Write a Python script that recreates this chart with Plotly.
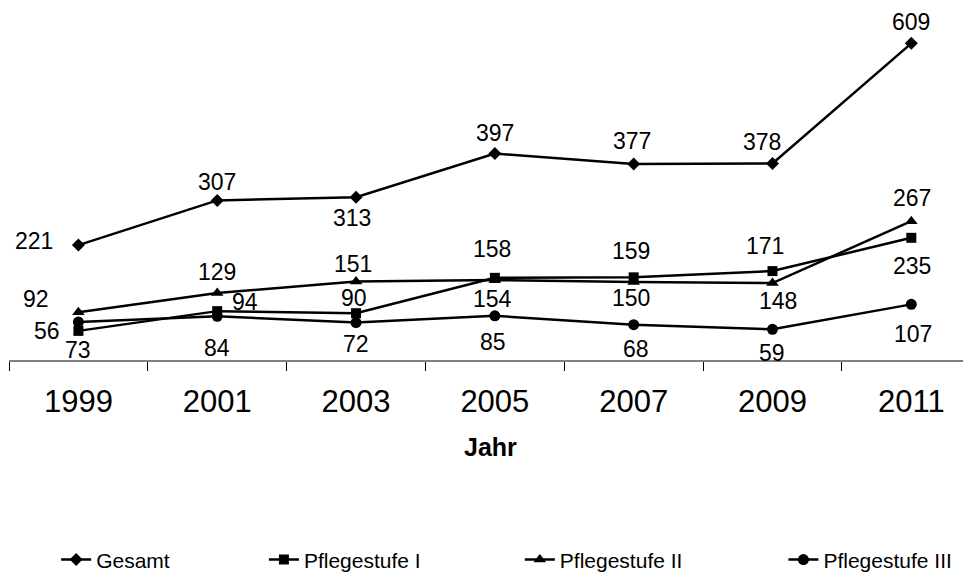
import plotly.graph_objects as go

# --- Daten ---
jahre = ["1999", "2001", "2003", "2005", "2007", "2009", "2011"]
gesamt = [221, 307, 313, 397, 377, 378, 609]
stufe_1 = [56, 94, 90, 158, 159, 171, 235]
stufe_2 = [92, 129, 151, 154, 150, 148, 267]
stufe_3 = [73, 84, 72, 85, 68, 59, 107]

# Versatz der Datenbeschriftungen (Pixel), getrennt von den Daten
dx_gesamt = [-44, 0, -4, 0, -2, -10, 0]
dy_gesamt = [4, 18, -21, 21, 23, 21, 21]
dx_s1 = [-31, 28, -2, -3, -3, -7, 1]
dy_s1 = [0, 9, 15, 29, 26, 25, -28]
dx_s2 = [-42, 0, -3, -2, -3, 6, 1]
dy_s2 = [13, 21, 17, -19, -16, -18, 23]
dx_s3 = [0, 0, 0, -2, 2, 0, 2]
dy_s3 = [-28, -32, -21, -26, -24, -24, -30]

FONT = "Liberation Sans, Arial, sans-serif"

series = [
    ("Gesamt", gesamt, "diamond", 10, dx_gesamt, dy_gesamt, "legend"),
    ("Pflegestufe I", stufe_1, "square", 10, dx_s1, dy_s1, "legend2"),
    ("Pflegestufe II", stufe_2, "triangle-up", 11, dx_s2, dy_s2, "legend3"),
    ("Pflegestufe III", stufe_3, "circle", 11, dx_s3, dy_s3, "legend4"),
]

fig = go.Figure()
annotations = []
for name, werte, symbol, size, dxs, dys, leg in series:
    fig.add_trace(go.Scatter(
        x=jahre, y=werte, name=name, mode="lines+markers",
        line=dict(color="black", width=2.5),
        marker=dict(symbol=symbol, size=size, color="black"),
        legend=leg, showlegend=True, hoverinfo="skip",
    ))
    # Datenbeschriftungen (Kategorie-Index auf der x-Achse)
    for i, (w, dx, dy) in enumerate(zip(werte, dxs, dys)):
        annotations.append(dict(
            x=i, y=w, xref="x", yref="y", text=str(w), showarrow=False,
            xanchor="center", yanchor="middle",
            xshift=dx, yshift=dy, font=dict(family=FONT, size=23, color="black"),
        ))

# Achsentitel
annotations.append(dict(
    x=0.501, y=-0.247, xref="paper", yref="paper", text="<b>Jahr</b>",
    xanchor="center", yanchor="middle",
    showarrow=False, font=dict(family=FONT, size=25, color="black"),
))

leg_style = dict(orientation="h", yanchor="middle", y=-0.568, xanchor="left",
                 font=dict(family=FONT, size=21, color="black"),
                 bgcolor="rgba(0,0,0,0)", visible=True)

# Die Seite hat 8px Body-Rand, daher Breite/Höhe um 8 kleiner
fig.update_layout(
    width=963, height=567,
    margin=dict(l=1, r=0, t=0, b=215, autoexpand=False),
    paper_bgcolor="white", plot_bgcolor="white",
    font=dict(family=FONT, color="black"),
    annotations=annotations,
    showlegend=True,
    legend=dict(leg_style, x=0.049),
    legend2=dict(leg_style, x=0.265),
    legend3=dict(leg_style, x=0.531),
    legend4=dict(leg_style, x=0.805),
    xaxis=dict(
        type="category", range=[-0.5, 6.43],
        showgrid=False, zeroline=False,
        showline=True, linecolor="#808080", linewidth=1.5,
        ticks="outside", tickson="boundaries", ticklen=9, tickcolor="black",
        tickfont=dict(family=FONT, size=31, color="black"),
        ticklabelstandoff=13,
    ),
    yaxis=dict(range=[0, 677], visible=False, showgrid=False),
)

fig.write_html("out.html")
